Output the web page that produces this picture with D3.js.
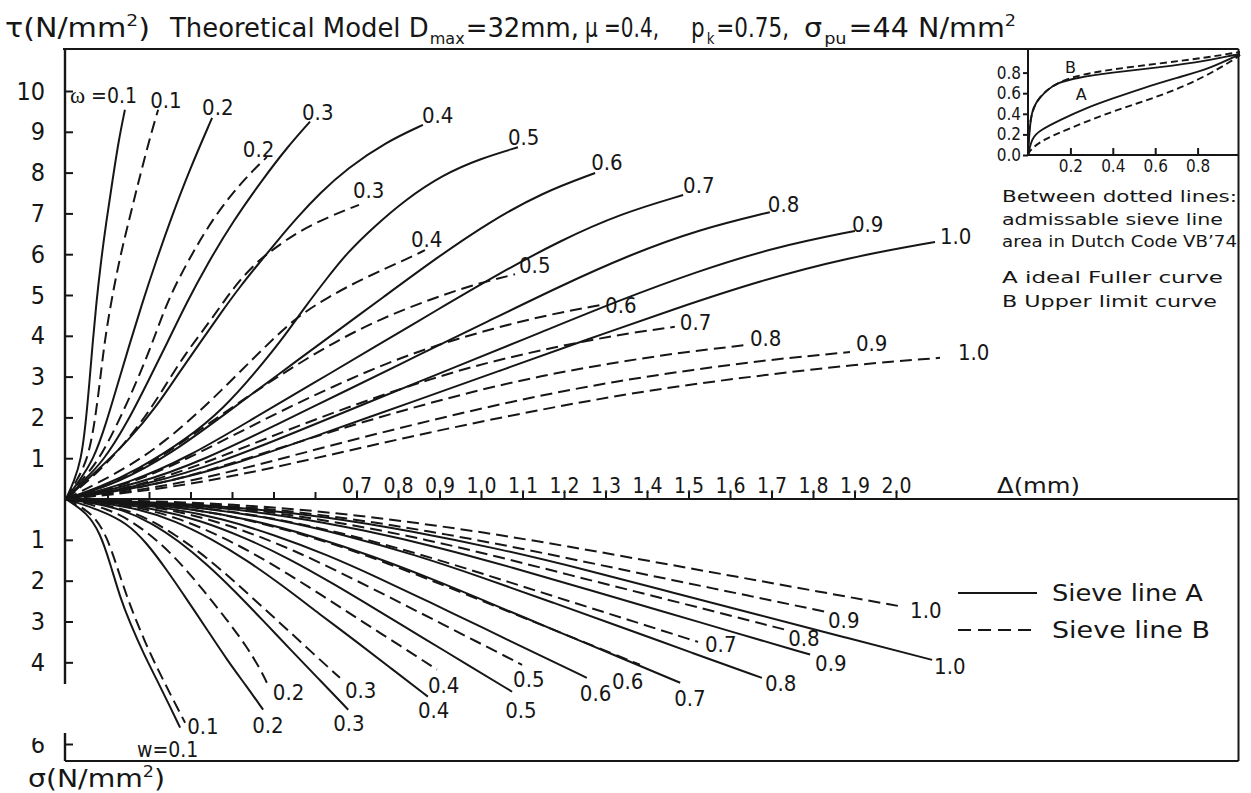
<!DOCTYPE html>
<html>
<head>
<meta charset="utf-8">
<script src="https://cdn.jsdelivr.net/npm/d3@7"></script>
<style>
  body { margin: 0; background: #fff; }
  svg { display: block; }
  .num { font-family: "Liberation Sans Narrow", "DejaVu Sans Condensed", "Roboto", sans-serif; fill: #161616; }
  .txt { font-family: "DejaVu Sans", "Noto Sans", sans-serif; fill: #161616; }
  .greek { font-family: "Liberation Serif", "DejaVu Serif", serif; fill: #161616; }
</style>
</head>
<body>
<svg id="chart" width="1251" height="793"></svg>
<script>
// ---- crack width of each curve (mm) ----
const omega = [0.1, 0.2, 0.3, 0.4, 0.5, 0.6, 0.7, 0.8, 0.9, 1.0];

// ---- shear stress tau (N/mm2) against slip delta (mm), sieve line A ----
const shearSieveA = [
  [[0,0],[0.020,0.45],[0.036,0.95],[0.047,1.80],[0.056,2.80],[0.064,3.80],[0.073,4.80],[0.084,5.80],[0.097,6.80],[0.112,7.80],[0.127,8.80],[0.142,9.54]],
  [[0,0],[0.030,0.42],[0.066,0.95],[0.097,1.86],[0.124,2.80],[0.152,3.75],[0.182,4.75],[0.216,5.80],[0.254,6.90],[0.297,8.05],[0.352,9.34]],
  [[0,0],[0.039,0.42],[0.089,0.91],[0.147,1.86],[0.198,2.89],[0.246,3.87],[0.290,4.80],[0.340,5.75],[0.402,6.80],[0.475,7.85],[0.533,8.62],[0.588,9.25]],
  [[0,0],[0.077,0.71],[0.152,1.45],[0.217,2.25],[0.272,3.09],[0.328,3.90],[0.373,4.56],[0.419,5.20],[0.465,5.78],[0.511,6.35],[0.557,6.90],[0.612,7.50],[0.677,8.10],[0.771,8.75],[0.860,9.17]],
  [[0,0],[0.082,0.29],[0.171,0.71],[0.289,1.45],[0.383,2.25],[0.455,3.09],[0.520,3.90],[0.576,4.71],[0.631,5.44],[0.677,6.03],[0.742,6.67],[0.817,7.33],[0.908,7.95],[1.000,8.35],[1.089,8.62]],
  [[0,0],[0.128,0.40],[0.255,1.12],[0.383,2.08],[0.510,3.04],[0.638,4.00],[0.765,4.95],[0.893,5.91],[1.020,6.79],[1.148,7.51],[1.275,7.99]],
  [[0,0],[0.149,0.37],[0.297,1.04],[0.446,1.94],[0.595,2.83],[0.744,3.73],[0.892,4.62],[1.041,5.51],[1.190,6.33],[1.338,7.00],[1.487,7.45]],
  [[0,0],[0.170,0.35],[0.339,0.98],[0.509,1.83],[0.678,2.67],[0.848,3.52],[1.018,4.36],[1.187,5.20],[1.357,5.98],[1.526,6.61],[1.696,7.03]],
  [[0,0],[0.190,0.33],[0.380,0.92],[0.570,1.71],[0.760,2.50],[0.951,3.29],[1.141,4.07],[1.331,4.86],[1.521,5.58],[1.711,6.18],[1.901,6.57]],
  [[0,0],[0.209,0.32],[0.419,0.88],[0.628,1.64],[0.838,2.39],[1.047,3.15],[1.256,3.91],[1.466,4.66],[1.675,5.36],[1.885,5.92],[2.094,6.30]]
];

// ---- shear stress, sieve line B ----
const shearSieveB = [
  [[0,0],[0.024,0.42],[0.052,0.95],[0.069,1.86],[0.082,2.89],[0.093,3.87],[0.110,4.90],[0.130,5.93],[0.155,6.96],[0.180,7.99],[0.204,8.92],[0.222,9.54]],
  [[0,0],[0.034,0.42],[0.077,0.91],[0.125,1.86],[0.171,2.89],[0.210,3.87],[0.246,4.90],[0.299,5.93],[0.359,6.96],[0.430,7.85],[0.484,8.38]],
  [[0,0],[0.077,0.64],[0.142,1.37],[0.198,2.11],[0.243,2.84],[0.289,3.58],[0.337,4.22],[0.383,4.88],[0.419,5.37],[0.465,5.86],[0.504,6.15],[0.557,6.54],[0.631,6.91],[0.706,7.21]],
  [[0,0],[0.152,0.78],[0.243,1.45],[0.318,2.11],[0.383,2.75],[0.448,3.41],[0.504,3.97],[0.557,4.46],[0.631,4.95],[0.723,5.44],[0.817,5.86],[0.865,6.10]],
  [[0,0],[0.108,0.33],[0.216,0.94],[0.325,1.71],[0.433,2.48],[0.541,3.20],[0.649,3.86],[0.757,4.41],[0.866,4.85],[0.974,5.23],[1.082,5.51]],
  [[0,0],[0.129,0.29],[0.257,0.81],[0.386,1.47],[0.515,2.14],[0.644,2.76],[0.772,3.33],[0.901,3.80],[1.030,4.18],[1.158,4.51],[1.287,4.75]],
  [[0,0],[0.147,0.25],[0.293,0.72],[0.440,1.31],[0.587,1.90],[0.734,2.45],[0.880,2.95],[1.027,3.38],[1.174,3.71],[1.320,4.01],[1.467,4.22]],
  [[0,0],[0.164,0.23],[0.327,0.64],[0.491,1.17],[0.654,1.70],[0.818,2.19],[0.982,2.64],[1.145,3.02],[1.309,3.32],[1.472,3.58],[1.636,3.77]],
  [[0,0],[0.189,0.22],[0.378,0.61],[0.567,1.12],[0.756,1.62],[0.945,2.09],[1.133,2.52],[1.322,2.88],[1.511,3.17],[1.700,3.42],[1.889,3.60]],
  [[0,0],[0.211,0.21],[0.421,0.59],[0.632,1.07],[0.842,1.56],[1.053,2.01],[1.264,2.42],[1.474,2.77],[1.685,3.04],[1.895,3.29],[2.106,3.46]]
];

// ---- normal stress sigma (N/mm2) against slip, sieve line A ----
const normalSieveA = [
  [[0,0],[0.051,0.34],[0.082,0.83],[0.106,1.56],[0.130,2.40],[0.154,3.03],[0.186,3.77],[0.219,4.43],[0.251,5.09],[0.275,5.60]],
  [[0,0],[0.082,0.27],[0.147,0.59],[0.195,1.08],[0.243,1.74],[0.292,2.47],[0.340,3.20],[0.388,3.94],[0.436,4.60],[0.475,5.16]],
  [[0,0],[0.068,0.10],[0.136,0.26],[0.204,0.57],[0.272,1.03],[0.340,1.60],[0.408,2.27],[0.476,2.99],[0.544,3.72],[0.612,4.44],[0.680,5.16]],
  [[0,0],[0.087,0.10],[0.174,0.24],[0.262,0.53],[0.349,0.97],[0.436,1.50],[0.523,2.13],[0.610,2.81],[0.698,3.48],[0.785,4.16],[0.872,4.84]],
  [[0,0],[0.108,0.09],[0.215,0.24],[0.323,0.52],[0.430,0.94],[0.538,1.46],[0.645,2.08],[0.753,2.74],[0.860,3.40],[0.968,4.06],[1.075,4.72]],
  [[0,0],[0.126,0.09],[0.251,0.22],[0.377,0.48],[0.502,0.88],[0.628,1.36],[0.753,1.93],[0.879,2.54],[1.004,3.15],[1.130,3.77],[1.255,4.38]],
  [[0,0],[0.148,0.09],[0.296,0.23],[0.444,0.50],[0.592,0.90],[0.740,1.40],[0.888,1.98],[1.036,2.61],[1.184,3.24],[1.332,3.87],[1.480,4.50]],
  [[0,0],[0.168,0.09],[0.335,0.22],[0.503,0.48],[0.671,0.88],[0.839,1.36],[1.006,1.93],[1.174,2.54],[1.342,3.15],[1.509,3.77],[1.677,4.38]],
  [[0,0],[0.179,0.08],[0.359,0.19],[0.538,0.42],[0.717,0.76],[0.897,1.18],[1.076,1.68],[1.255,2.21],[1.434,2.74],[1.614,3.28],[1.793,3.81]],
  [[0,0],[0.209,0.08],[0.417,0.20],[0.626,0.43],[0.835,0.79],[1.044,1.22],[1.252,1.73],[1.461,2.29],[1.670,2.84],[1.878,3.39],[2.087,3.94]]
];

// ---- normal stress, sieve line B ----
const normalSieveB = [
  [[0,0],[0.065,0.34],[0.099,0.93],[0.123,1.66],[0.147,2.40],[0.171,3.03],[0.202,3.77],[0.234,4.43],[0.258,4.91],[0.287,5.48]],
  [[0,0],[0.099,0.22],[0.161,0.56],[0.219,1.00],[0.275,1.56],[0.330,2.22],[0.388,2.96],[0.436,3.62],[0.470,4.20],[0.484,4.50]],
  [[0,0],[0.066,0.09],[0.132,0.22],[0.198,0.48],[0.264,0.88],[0.330,1.36],[0.396,1.93],[0.462,2.54],[0.528,3.15],[0.594,3.77],[0.660,4.38]],
  [[0,0],[0.089,0.08],[0.179,0.21],[0.268,0.46],[0.358,0.84],[0.447,1.30],[0.536,1.84],[0.626,2.42],[0.715,3.01],[0.805,3.59],[0.894,4.18]],
  [[0,0],[0.110,0.08],[0.220,0.20],[0.330,0.45],[0.440,0.81],[0.550,1.26],[0.659,1.79],[0.769,2.35],[0.879,2.92],[0.989,3.49],[1.099,4.06]],
  [[0,0],[0.138,0.08],[0.277,0.20],[0.415,0.45],[0.553,0.81],[0.692,1.26],[0.830,1.79],[0.968,2.35],[1.106,2.92],[1.245,3.49],[1.383,4.06]],
  [[0,0],[0.152,0.07],[0.305,0.18],[0.457,0.39],[0.609,0.70],[0.762,1.09],[0.914,1.54],[1.066,2.03],[1.218,2.52],[1.371,3.01],[1.523,3.50]],
  [[0,0],[0.173,0.06],[0.347,0.16],[0.520,0.35],[0.693,0.64],[0.867,0.99],[1.040,1.41],[1.213,1.86],[1.386,2.30],[1.560,2.75],[1.733,3.20]],
  [[0,0],[0.183,0.06],[0.366,0.14],[0.549,0.30],[0.732,0.55],[0.915,0.86],[1.097,1.21],[1.280,1.60],[1.463,1.99],[1.646,2.37],[1.829,2.76]],
  [[0,0],[0.202,0.05],[0.403,0.13],[0.605,0.29],[0.807,0.53],[1.009,0.82],[1.210,1.16],[1.412,1.53],[1.614,1.90],[1.815,2.27],[2.017,2.64]]
];

// ---- axis ticks ----
const slipTicks = [0.1,0.2,0.3,0.4,0.5,0.6,0.7,0.8,0.9,1.0,1.1,1.2,1.3,1.4,1.5,1.6,1.7,1.8,1.9,2.0];
const slipTickLabels = ["","","","","","","0.7","0.8","0.9","1.0","1.1","1.2","1.3","1.4","1.5","1.6","1.7","1.8","1.9","2.0"];
const shearTicks = [1,2,3,4,5,6,7,8,9,10];
const normalTicks = [1,2,3,4,5,6];

// ---- grading curves (passing fraction against relative sieve size) ----
const gradingXTicks = [0.2, 0.4, 0.6, 0.8];
const gradingYTicks = [0.0, 0.2, 0.4, 0.6, 0.8];
const fullerA      = [[0,0],[0.019,0.17],[0.057,0.24],[0.151,0.34],[0.278,0.46],[0.401,0.55],[0.542,0.65],[0.703,0.75],[0.858,0.84],[0.967,0.95],[1,0.97]];
const codeLower    = [[0,0],[0.009,0.05],[0.071,0.15],[0.198,0.26],[0.354,0.39],[0.514,0.50],[0.670,0.61],[0.825,0.75],[0.967,0.92],[1,0.97]];
const upperLimitB  = [[0,0],[0.009,0.31],[0.024,0.47],[0.057,0.56],[0.090,0.63],[0.137,0.70],[0.231,0.75],[0.387,0.80],[0.623,0.85],[0.858,0.92],[0.967,0.97],[1,0.98]];
const codeUpper    = [[0,0],[0.004,0.25],[0.019,0.42],[0.047,0.55],[0.104,0.66],[0.198,0.76],[0.387,0.83],[0.623,0.89],[0.858,0.95],[0.967,0.99],[1,1]];

// ---- layout ----
const W = 1251, H = 793;
const ink = "#161616";
const frame = { left: 65, top: 49, right: 1238.5, bottom: 761 };
const x = d3.scaleLinear().domain([0, 2]).range([66, 896]);
const yTau = d3.scaleLinear().domain([0, 10]).range([499, 91]);
const ySig = d3.scaleLinear().domain([0, 6]).range([499, 744]);
const xi = d3.scaleLinear().domain([0, 1]).range([1028, 1240]);
const yi = d3.scaleLinear().domain([0, 1]).range([155, 52]);

// label offsets from each curve's end point: [dx, dy, anchor]
const shearLabelA = [[12,-7,"end"],[-10,-3],[-8,-2],[-1,-2],[-10,-2],[-4,-3],[0,-2],[-2,0],[-3,1],[5,2]];
const shearLabelB = [[-8,-2],[-24,0],[-6,-7],[-14,-3],[4,-1],[5,8],[5,3],[5,1],[6,-1],[18,2]];
const normalLabelA = [[7,6],[-11,23],[-15,21],[-10,21],[-7,26],[-7,23],[-6,23],[3,13],[5,16],[2,14]];
const normalLabelB = [null,[6,17],[5,20],[-9,23],[-9,22],[-28,24],[7,10],[3,16],[3,16],[7,11]];

const svg = d3.select("#chart");
svg.append("rect").attr("width", W).attr("height", H).attr("fill", "#fff");

const dash = "12,6";
function family(data, ys, dashed) {
  const gen = d3.line().x(d => x(d[0])).y(d => ys(d[1])).curve(d3.curveBasis);
  svg.append("g").selectAll("path").data(data).join("path")
    .attr("d", gen)
    .attr("fill", "none")
    .attr("stroke", ink)
    .attr("stroke-width", 2)
    .attr("stroke-linecap", "butt")
    .attr("stroke-dasharray", dashed ? dash : null);
}
family(shearSieveA, yTau, false);
family(shearSieveB, yTau, true);
family(normalSieveA, ySig, false);
family(normalSieveB, ySig, true);

const labelSize = 22;
function curveLabels(data, ys, offsets) {
  data.forEach((c, i) => {
    const o = offsets[i];
    if (!o) return;
    const end = c[c.length - 1];
    const t = svg.append("text").attr("class", "num")
      .attr("x", x(end[0]) + o[0]).attr("y", ys(end[1]) + o[1])
      .attr("font-size", labelSize)
      .attr("text-anchor", o[2] || "start");
    if (o[2] === "end") {
      t.append("tspan").attr("class", "greek").attr("font-size", 23).text("ω");
      t.append("tspan").attr("font-size", 21).text(" =" + omega[i].toFixed(1));
    } else {
      t.text(omega[i].toFixed(1));
    }
  });
}
curveLabels(shearSieveA, yTau, shearLabelA);
curveLabels(shearSieveB, yTau, shearLabelB);
curveLabels(normalSieveA, ySig, normalLabelA);
curveLabels(normalSieveB, ySig, normalLabelB);

// ---- frame and axes ----
function seg(x1, y1, x2, y2, w) {
  svg.append("line").attr("x1", x1).attr("y1", y1).attr("x2", x2).attr("y2", y2)
    .attr("stroke", ink).attr("stroke-width", w || 2);
}
seg(frame.left - 2, frame.top, frame.right, frame.top, 2);
seg(frame.right, frame.top, frame.right, frame.bottom, 2);
seg(frame.left, frame.bottom, frame.right, frame.bottom, 2);
seg(frame.left, frame.top, frame.left, frame.bottom, 2.4);
seg(frame.left, yTau(0), frame.right, yTau(0), 2.2);

function styleAxis(g, size, cls) {
  g.attr("font-size", null).attr("font-family", null);
  g.select(".domain").remove();
  g.selectAll(".tick line").attr("stroke", ink).attr("stroke-width", 2);
  g.selectAll(".tick text").attr("class", cls).attr("font-size", size).attr("fill", ink);
}

const gx = svg.append("g").attr("transform", `translate(0,${yTau(0)})`)
  .call(d3.axisTop(x).tickValues(slipTicks).tickSize(7).tickPadding(-1)
    .tickFormat((d, i) => slipTickLabels[i]));
styleAxis(gx, 21, "num");

const gTau = svg.append("g").attr("transform", `translate(${frame.left},0)`)
  .call(d3.axisLeft(yTau).tickValues(shearTicks).tickSize(-8).tickPadding(20).tickFormat(d3.format("d")));
styleAxis(gTau, 25, "num");

const gSig = svg.append("g").attr("transform", `translate(${frame.left},0)`)
  .call(d3.axisLeft(ySig).tickValues(normalTicks).tickSize(-8).tickPadding(20).tickFormat(d3.format("d")));
styleAxis(gSig, 25, "num");

// paper patch over the lower axis
svg.append("rect").attr("x", 20).attr("y", 684).attr("width", 58).attr("height", 49).attr("fill", "#fff");
svg.append("rect").attr("x", 20).attr("y", 732).attr("width", 40).attr("height", 6).attr("fill", "#fff");

svg.append("text").attr("class", "num").attr("x", 137).attr("y", 757).attr("font-size", 21).text("w=0.1");

// ---- texts: a run of separate pieces, squeezed together to a given width ----
function run(x0, y0, parts, size, width) {
  const nodes = parts.map(p => {
    const small = p.sup || p.sub;
    const fs = small ? size * 0.62 : size;
    const dy = p.sup ? -0.42 * size : p.sub ? 0.28 * size : 0;
    const t = svg.append("text").attr("class", "txt").attr("font-size", fs)
      .attr("y", y0 + dy).attr("x", x0).text(p.t);
    return { t, w: t.node().getComputedTextLength(), gap: p.gap || 0 };
  });
  const gaps = d3.sum(nodes, n => n.gap);
  const total = d3.sum(nodes, n => n.w);
  const k = width ? (width - gaps) / total : 1;
  let cx = x0;
  nodes.forEach(n => {
    cx += n.gap;
    const w = n.w * k;
    n.t.attr("x", cx).attr("textLength", w).attr("lengthAdjust", "spacingAndGlyphs");
    cx += w + n.gap;
  });
}

run(5, 37, [{t:"τ(N/mm"},{t:"2",sup:true},{t:")"}], 26, 145);
run(170, 37, [{t:"Theoretical Model D"},{t:"max",sub:true,gap:1},{t:"=32mm,"}], 26, 408);
run(585, 37, [{t:"μ =0.4,"}], 26, 74);
run(691, 37, [{t:"p"},{t:"k",sub:true,gap:2},{t:" =0.75,"}], 26, 96);
run(804, 37, [{t:"σ"},{t:"pu",sub:true,gap:2},{t:" =44 N/mm"},{t:"2",sup:true}], 26, 210);

run(997, 493, [{t:"Δ(mm)"}], 21, 83);
run(28, 787, [{t:"σ(N/mm"},{t:"2",sup:true},{t:")"}], 25, 137);

// ---- legend ----
seg(958, 593, 1037, 593, 2);
svg.append("line").attr("x1", 958).attr("y1", 630).attr("x2", 1037).attr("y2", 630)
  .attr("stroke", ink).attr("stroke-width", 2).attr("stroke-dasharray", "13,7");
run(1052, 601, [{t:"Sieve line A"}], 23, 151);
run(1052, 638, [{t:"Sieve line B"}], 23, 158);

// ---- inset: grading curves ----
seg(xi(0), frame.top, xi(0), yi(0), 2);
seg(xi(0), yi(0), frame.right, yi(0), 2);
const gi = d3.line().x(d => xi(d[0])).y(d => yi(d[1])).curve(d3.curveBasis);
[[fullerA, false], [codeLower, true], [upperLimitB, false], [codeUpper, true]].forEach(([d, dashed]) => {
  svg.append("path").datum(d).attr("d", gi).attr("fill", "none").attr("stroke", ink)
    .attr("stroke-width", 1.9).attr("stroke-dasharray", dashed ? "7,4" : null);
});
const gix = svg.append("g").attr("transform", `translate(0,${yi(0)})`)
  .call(d3.axisBottom(xi).tickValues(gradingXTicks).tickSize(-7).tickPadding(5).tickFormat(d3.format(".1f")));
styleAxis(gix, 17, "num");
const giy = svg.append("g").attr("transform", `translate(${xi(0)},0)`)
  .call(d3.axisLeft(yi).tickValues(gradingYTicks).tickSize(5).tickPadding(2).tickFormat(d3.format(".1f")));
styleAxis(giy, 17, "num");
svg.append("text").attr("class", "txt").attr("x", xi(0.175)).attr("y", yi(0.8)).attr("font-size", 16).text("B");
svg.append("text").attr("class", "txt").attr("x", xi(0.225)).attr("y", yi(0.535)).attr("font-size", 16).text("A");

run(1002, 202, [{t:"Between dotted lines:"}], 16, 235);
run(1002, 225, [{t:"admissable sieve line"}], 16, 221);
run(1002, 247, [{t:"area in Dutch Code VB’74"}], 16, 235);
run(1002, 283, [{t:"A  ideal Fuller curve"}], 16, 221);
run(1002, 307, [{t:"B  Upper limit curve"}], 16, 215);
</script>
</body>
</html>
